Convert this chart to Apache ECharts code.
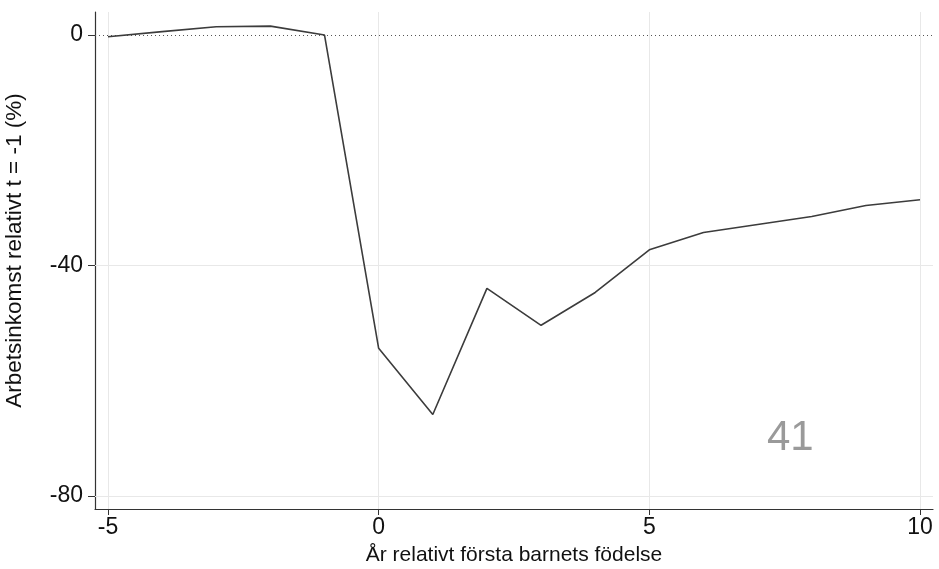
<!DOCTYPE html>
<html><head><meta charset="utf-8">
<script src="https://cdn.jsdelivr.net/npm/echarts@6/dist/echarts.min.js"></script>
<style>html,body{margin:0;padding:0;background:#fff}#c{width:939px;height:569px}</style>
</head><body><div id="c"></div>
<script>
const years = [-5,-4,-3,-2,-1,0,1,2,3,4,5,6,7,8,9,10];
const values = [-0.3,0.6,1.45,1.55,0,-54.4,-65.9,-44.0,-50.4,-44.7,-37.3,-34.3,-32.9,-31.5,-29.6,-28.6];
const xTicks = [-5,0,5,10];
const yTicks = [0,-40,-80];
const annotation = '41';
const xName = 'År relativt första barnets födelse';
const yName = 'Arbetsinkomst relativt t = -1 (%)';

const font = 'Arial, "Liberation Sans", sans-serif';
const chart = echarts.init(document.getElementById('c'), null, {renderer:'canvas'});
const gridLines = [];
yTicks.forEach(v => { if (v !== 0) gridLines.push({yAxis: v, lineStyle:{color:'#e8e8e8', type:'solid', width:1}}); });
xTicks.forEach(v => gridLines.push({xAxis: v, lineStyle:{color:'#e8e8e8', type:'solid', width:1}}));
gridLines.push({yAxis: 0, lineStyle:{color:'#555', type:[1,3], width:1}});

chart.setOption({
  animation:false,
  grid:{left:95, right:6, top:12, bottom:60, containLabel:false, outerBoundsMode:'none'},
  xAxis:{type:'value', min:-5.24, max:10.24,
    name:xName, nameLocation:'middle', nameGap:36,
    nameTextStyle:{fontFamily:font, fontSize:21, color:'#111'},
    axisLine:{show:true, onZero:false, lineStyle:{color:'#333', width:1.2}},
    axisTick:{show:true, customValues:xTicks, length:6, lineStyle:{color:'#333'}},
    axisLabel:{customValues:xTicks, fontFamily:font, fontSize:23, color:'#111', margin:7},
    splitLine:{show:false}},
  yAxis:{type:'value', min:-82.3, max:4,
    name:yName, nameLocation:'middle', nameGap:69, nameRotate:90,
    nameTextStyle:{fontFamily:font, fontSize:22.5, color:'#111', padding:[0,0,0,20]},
    axisLine:{show:true, onZero:false, lineStyle:{color:'#333', width:1.2}},
    axisTick:{show:true, customValues:yTicks, length:7, lineStyle:{color:'#333'}},
    axisLabel:{customValues:yTicks, fontFamily:font, fontSize:23, color:'#111', margin:12,
      formatter: v => String(v)},
    splitLine:{show:false}},
  graphic:[{type:'text', left:767, top:417,
    style:{text:annotation, fontFamily:font, fontSize:42, fill:'#9a9a9a'}}],
  series:[{type:'line', data: years.map((y,i)=>[y, values[i]]),
    showSymbol:false, symbol:'none', z:5,
    lineStyle:{color:'#3c3c3c', width:1.6},
    markLine:{silent:true, symbol:'none', label:{show:false}, z:1, data:gridLines}}]
});
</script></body></html>
